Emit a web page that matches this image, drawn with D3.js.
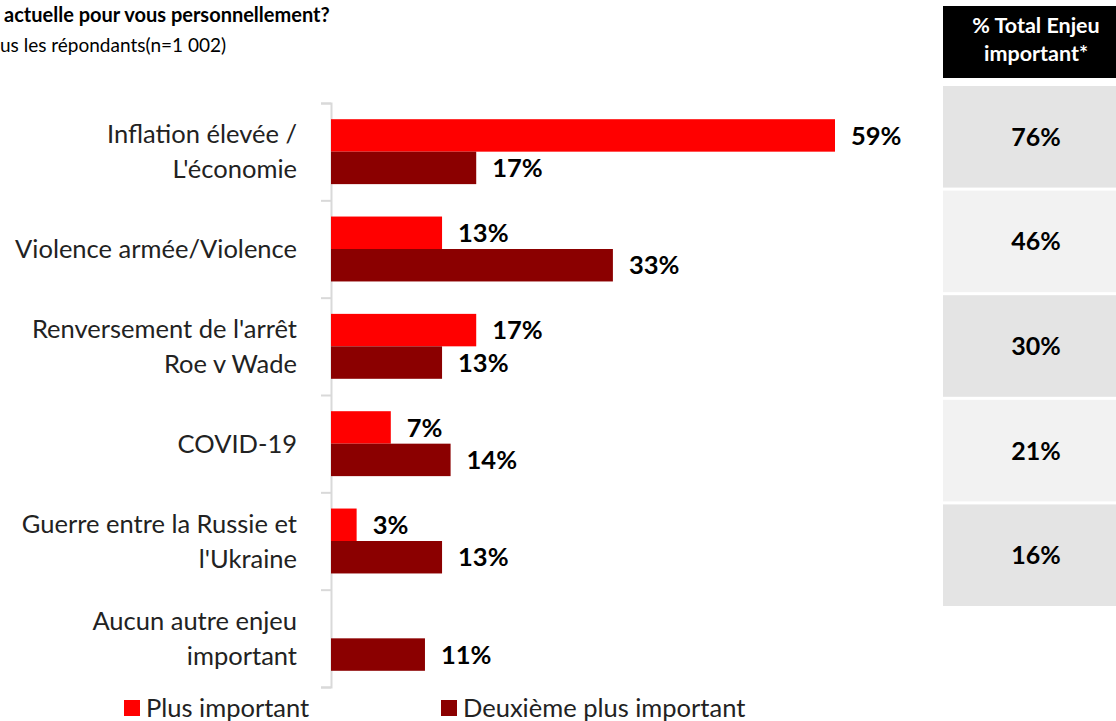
<!DOCTYPE html>
<html>
<head>
<meta charset="utf-8">
<script src="https://cdn.jsdelivr.net/npm/d3@7"></script>
<style>
  body { margin: 0; background: #fff; }
  svg { display: block; font-family: Lato, "Open Sans", sans-serif; }
</style>
</head>
<body>
<svg id="canvas"></svg>
<script>
// data
const categories = [
  ["Inflation élevée /", "L'économie"],
  ["Violence armée/Violence"],
  ["Renversement de l'arrêt", "Roe v Wade"],
  ["COVID-19"],
  ["Guerre entre la Russie et", "l'Ukraine"],
  ["Aucun autre enjeu", "important"]
];
const seriesNames = ["Plus important", "Deuxième plus important"];
const plusImportant = [59, 13, 17, 7, 3, null];
const deuxiemeImportant = [17, 33, 13, 14, 13, 11];
const totals = [76, 46, 30, 21, 16];
const colors = ["#ff0000", "#8b0000"];

const width = 1116;
const height = 721;

let canvas = d3.select("#canvas")
  .attr("width", width)
  .attr("height", height);

// title (cut off on the left in the original)
canvas.append("text")
  .attr("x", 4).attr("y", 22)
  .attr("font-size", 20).attr("font-weight", "bold")
  .text("actuelle pour vous personnellement?");
canvas.append("text")
  .attr("x", 0).attr("y", 52)
  .attr("font-size", 19)
  .text("us les répondants(n=1 002)");

// scales
const idx = d3.range(categories.length);
const yGroup = d3.scaleBand()
  .domain(idx)
  .range([103, 687])
  .paddingInner(0.333)
  .paddingOuter(0.1665);
const ySeries = d3.scaleBand()
  .domain([0, 1])
  .range([0, yGroup.bandwidth()]);
const xScale = d3.scaleLinear()
  .domain([0, 59])
  .range([331, 835]);

// axis with ticks on the category boundaries
const yEdge = d3.scaleLinear().domain([0, categories.length]).range([103, 687]);
let axis = canvas.append("g")
  .attr("transform", "translate(331,0)")
  .call(d3.axisLeft(yEdge).tickValues(d3.range(categories.length + 1)).tickSize(10).tickFormat(""));
axis.selectAll("path, line").attr("stroke", "#d9d9d9").attr("stroke-width", 2);

// bars
let cellDatas = [];
idx.forEach(i => {
  [plusImportant[i], deuxiemeImportant[i]].forEach((v, s) => {
    if (v !== null) cellDatas.push({ i: i, s: s, value: v });
  });
});

canvas.selectAll("rect.bar")
  .data(cellDatas)
  .enter()
  .append("rect")
  .attr("class", "bar")
  .attr("x", xScale(0))
  .attr("y", d => yGroup(d.i) + ySeries(d.s))
  .attr("width", d => xScale(d.value) - xScale(0))
  .attr("height", ySeries.bandwidth())
  .attr("fill", d => colors[d.s]);

canvas.selectAll("text.value")
  .data(cellDatas)
  .enter()
  .append("text")
  .attr("class", "value")
  .attr("x", d => xScale(d.value) + 16)
  .attr("y", d => yGroup(d.i) + ySeries(d.s) + ySeries.bandwidth() / 2)
  .attr("dy", "0.36em")
  .attr("font-size", 25.5)
  .attr("font-weight", "bold")
  .text(d => d.value + "%");

// category labels
let labels = canvas.selectAll("text.cat")
  .data(categories)
  .enter()
  .append("text")
  .attr("class", "cat")
  .attr("text-anchor", "end")
  .attr("font-size", 25.5)
  .attr("fill", "#222");
labels.each(function (lines, i) {
  const cy = yGroup(i) + yGroup.bandwidth() / 2;
  const lh = 35;
  d3.select(this).selectAll("tspan")
    .data(lines)
    .enter()
    .append("tspan")
    .attr("x", 297)
    .attr("y", (d, k) => cy + (k - (lines.length - 1) / 2) * lh)
    .attr("dy", "0.36em")
    .text(d => d);
});

// right table
canvas.append("rect")
  .attr("x", 943).attr("y", 6)
  .attr("width", 190).attr("height", 72)
  .attr("fill", "#000");
canvas.append("text")
  .attr("x", 1036).attr("y", 33)
  .attr("text-anchor", "middle").attr("font-size", 21.5)
  .attr("font-weight", "bold").attr("fill", "#fff")
  .text("% Total Enjeu");
canvas.append("text")
  .attr("x", 1036).attr("y", 61)
  .attr("text-anchor", "middle").attr("font-size", 21.5)
  .attr("font-weight", "bold").attr("fill", "#fff")
  .text("important*");

const yTable = d3.scaleBand()
  .domain(d3.range(totals.length))
  .range([86, 86 + 104 * totals.length])
  .paddingInner(3 / 104)
  .paddingOuter(0);

canvas.selectAll("rect.cell")
  .data(totals)
  .enter()
  .append("rect")
  .attr("class", "cell")
  .attr("x", 943)
  .attr("y", (d, i) => yTable(i))
  .attr("width", 190)
  .attr("height", yTable.bandwidth())
  .attr("fill", (d, i) => i % 2 === 0 ? "#e4e4e4" : "#f2f2f2");

canvas.selectAll("text.total")
  .data(totals)
  .enter()
  .append("text")
  .attr("class", "total")
  .attr("x", 1036)
  .attr("y", (d, i) => yTable(i) + yTable.bandwidth() / 2)
  .attr("dy", "0.36em")
  .attr("text-anchor", "middle")
  .attr("font-size", 25)
  .attr("font-weight", "bold")
  .text(d => d + "%");

// legend
const legendX = [124, 441];
let legend = canvas.selectAll("g.legend")
  .data(seriesNames)
  .enter()
  .append("g")
  .attr("class", "legend")
  .attr("transform", (d, i) => `translate(${legendX[i]},700)`);
legend.append("rect")
  .attr("width", 16).attr("height", 16)
  .attr("fill", (d, i) => colors[i]);
legend.append("text")
  .attr("x", 22).attr("y", 8)
  .attr("dy", "0.36em")
  .attr("font-size", 25.5)
  .attr("fill", "#222")
  .text(d => d);
</script>
</body>
</html>
